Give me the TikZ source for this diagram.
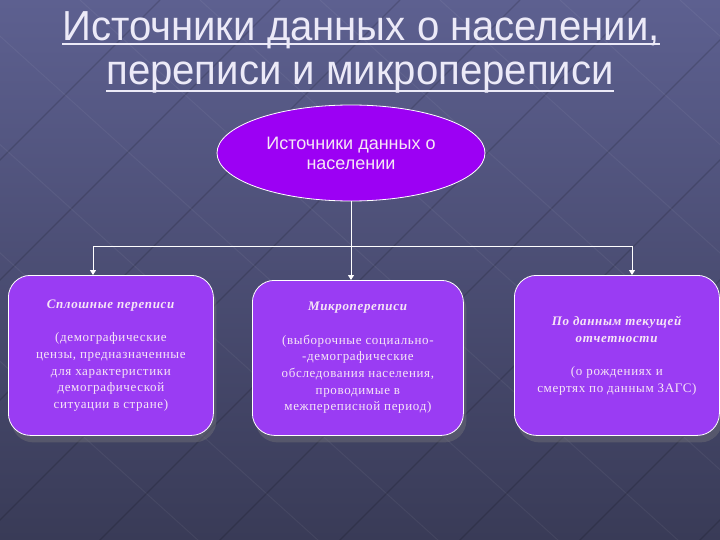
\documentclass[tikz,border=0pt]{standalone}
\usepackage{fontspec}
\setmainfont{Liberation Serif}[LetterSpace=5]
\newfontfamily\headfont{Liberation Sans}
\usetikzlibrary{positioning,arrows.meta,shapes.geometric,shadows}

\definecolor{bgtop}{HTML}{5D6090}
\definecolor{bgbot}{HTML}{393B57}
\definecolor{ovalfill}{HTML}{9C00F4}
\definecolor{boxfill}{HTML}{9A3CF3}
\definecolor{titletext}{HTML}{ECEAF8}
\definecolor{labeltext}{HTML}{F6E6F6}

\newcommand{\narrow}[1]{\scalebox{0.955}[1]{#1}}

\tikzset{
  heading/.style={text=titletext, inner sep=0pt, font=\headfont\fontsize{42}{48}\selectfont},
  underline/.style={draw=titletext, line width=1.8pt},
  oval/.style={ellipse, draw=white, line width=0.8pt, fill=ovalfill,
    text=labeltext, minimum width=268pt, minimum height=96pt, align=center,
    font=\headfont\fontsize{18}{20}\selectfont},
  group/.style={rectangle, rounded corners=22pt, draw=white, line width=0.8pt,
    fill=boxfill, text=labeltext, align=center, anchor=north west,
    font=\fontsize{13}{16.7}\selectfont,
    drop shadow={shadow xshift=3pt, shadow yshift=-7pt, opacity=0.35}},
  link/.style={draw=white, line width=1pt},
  linkarrow/.style={link, -{Triangle[width=6pt,length=5pt]}}
}

\begin{document}
\begin{tikzpicture}[x=1pt, y=-1pt]

    % background
    \useasboundingbox (0,0) rectangle (720,540);
    \shade[top color=bgtop, bottom color=bgbot] (0,0) rectangle (720,540);
    \begin{scope}
      \clip (0,0) rectangle (720,540);
      \foreach \x in {-400,-280,...,760} {
        \draw[black, opacity=0.15, line width=1.2pt] (\x,560) -- (\x+560,0);
        \draw[white, opacity=0.05, line width=1pt] (\x,0) -- (\x+620,560);
      }
    \end{scope}


    % title
    \node[heading, anchor=base] (title1) at (361,41) {\narrow{Источники данных о населении,}};
    \node[heading, anchor=base] (title2) at (360,85) {\narrow{переписи и микропереписи}};
    \draw[underline] ([yshift=-3pt]title1.base west) -- ([yshift=-3pt]title1.base east);
    \draw[underline] ([yshift=-6pt]title2.base west) -- ([yshift=-6pt]title2.base east);


    % top level
    \node[oval] (sources) at (351,153) {Источники данных о\\ населении};


    % bottom level
    \node[group, minimum width=205pt, minimum height=160pt] (census) at (8,275)
      {\textbf{\textit{Сплошные переписи}}\\[16.7pt]
       (демографические\\ цензы, предназначенные\\ для характеристики\\ демографической\\ ситуации в стране)};
    \node[group, minimum width=211pt, minimum height=155pt] (micro) at (252,280)
      {\textbf{\textit{Микропереписи}}\\[16.7pt]
       (выборочные социально-\\ -демографические\\ обследования населения,\\ проводимые в\\ межпереписной период)};
    \node[group, minimum width=205pt, minimum height=160pt] (registry) at (514,275)
      {\textbf{\textit{По данным текущей}}\\ \textbf{\textit{отчетности}}\\[16.7pt]
       (о рождениях и\\ смертях по данным ЗАГС)};


    % connectors
    \coordinate (hub) at (sources.south |- 0,246);
    \coordinate (hubL) at (93,246);
    \coordinate (hubR) at (632,246);
    \draw[link] (hubL) -- (hubR);
    \draw[linkarrow] (sources.south) -- (hub |- micro.north);
    \draw[linkarrow] (hubL) -- (hubL |- census.north);
    \draw[linkarrow] (hubR) -- (hubR |- registry.north);

\end{tikzpicture}
\end{document}
